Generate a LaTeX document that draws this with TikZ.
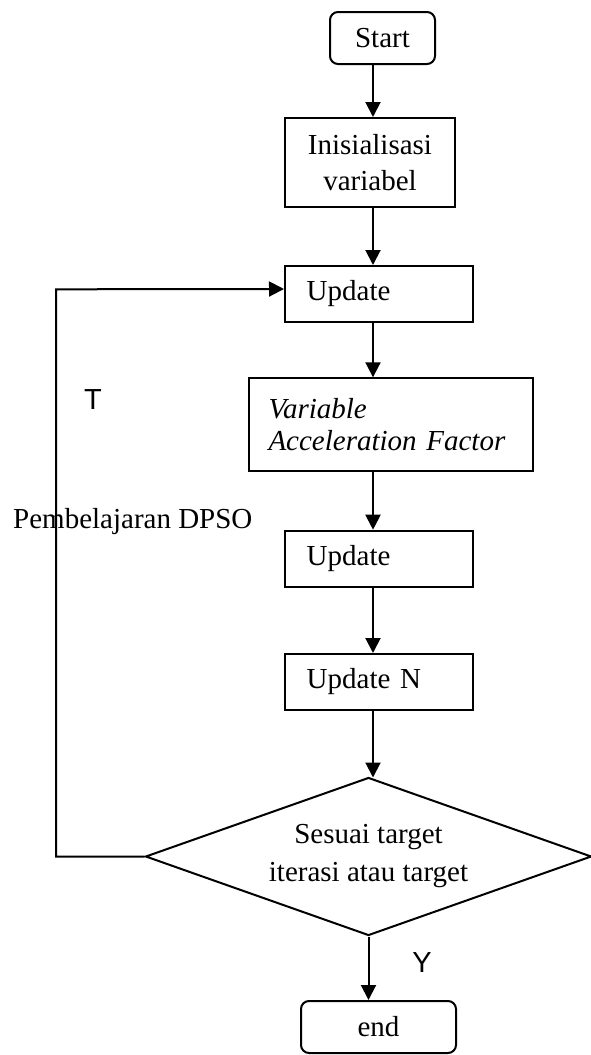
\documentclass[tikz,border=0pt]{standalone}
\usepackage{fontspec}
\setmainfont{Liberation Serif}
\newfontfamily\sansf{Liberation Sans}
\usetikzlibrary{shapes.geometric,arrows.meta}
\begin{document}
\begin{tikzpicture}[x=1pt,y=-1pt,
  lw/.style={line width=2pt},
  txt/.style={font=\fontsize{29}{36}\selectfont},
  sanslabel/.style={font=\sansf\fontsize{29}{34}\selectfont,inner sep=0pt},
  termbox/.style={draw,lw,txt,rounded corners=8pt,inner sep=0pt,minimum height=52pt},
  leftbox/.style={draw,lw,txt,inner xsep=21.7pt,inner ysep=0pt,text width=144.6pt,align=left,minimum height=56pt},
  initbox/.style={draw,lw,font=\fontsize{29}{36}\selectfont,inner sep=0pt,minimum width=170pt,minimum height=89pt,align=center},
  vafbox/.style={draw,lw,font=\itshape\fontsize{29}{32}\selectfont,inner xsep=19.2pt,inner ysep=0pt,text width=245pt,align=left,minimum height=92.4pt},
  decbox/.style={draw,lw,diamond,shape aspect=2.82,inner sep=0pt,minimum width=446pt,minimum height=158pt,font=\fontsize{29}{38}\selectfont,align=center},
  arr/.style={lw,-{Triangle[width=15pt,length=15pt]}},
  link/.style={lw}
]
\useasboundingbox (0,0) rectangle (590,1055);

\node[termbox,minimum width=105pt] (start) at (382.5,38) {Start};
\node[initbox] (init) at (370,162.5) {Inisialisasi\\variabel};
\node[leftbox] (upd1) at (379,294) {Update};
\node[vafbox] (vaf) at (391,424.5) {Variable\\Acceleration Factor};
\node[leftbox] (upd2) at (379,558.7) {Update};
\node[leftbox] (updn) at (379,682) {Update N};
\node[decbox] (dec) at (368.5,856.5) {Sesuai target\\iterasi atau target};
\node[termbox,minimum width=155pt] (end) at (378.5,1027) {end};

\node[sanslabel] (tlab) at (93,400) {T};
\node[sanslabel] (ylab) at (422,963) {Y};
\node[txt,inner sep=0pt,anchor=base west] (learn) at (13,528) {Pembelajaran DPSO};

\coordinate (spine) at (373,0);
\coordinate (fb) at (56,289.3);

\draw[arr] (start.south -| spine) -- (init.north -| spine);
\draw[arr] (init.south -| spine) -- (upd1.north -| spine);
\draw[arr] (upd1.south -| spine) -- (vaf.north -| spine);
\draw[arr] (vaf.south -| spine) -- (upd2.north -| spine);
\draw[arr] (upd2.south -| spine) -- (updn.north -| spine);
\draw[arr] (updn.south -| spine) -- ([yshift=-1pt]dec.north -| spine);
\draw[arr] (dec.south) -- (end.north -| dec.south);
\draw[arr] (dec.west) -| (fb) -- ([yshift=5pt]upd1.west);
\end{tikzpicture}
\end{document}
